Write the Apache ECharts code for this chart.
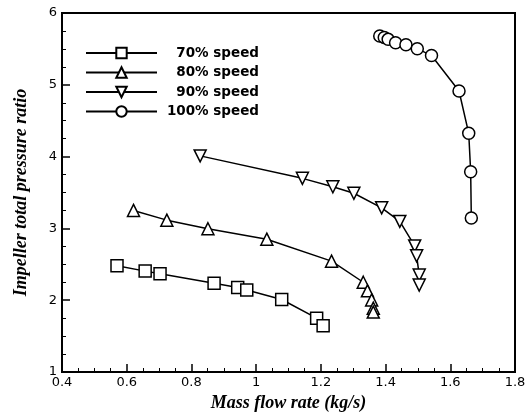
<!DOCTYPE html>
<html>
<head>
<meta charset="utf-8">
<script src="https://cdn.jsdelivr.net/npm/echarts@6/dist/echarts.min.js"></script>
<style>
html,body{margin:0;padding:0;background:#fff;}
#main{width:532px;height:417px;}
</style>
</head>
<body>
<div id="main"></div>
<script>
// 各转速下的特性线数据 [流量 kg/s, 总压比]
var speed70 = [[0.570,2.48],[0.657,2.405],[0.703,2.369],[0.870,2.235],[0.943,2.176],[0.971,2.143],[1.079,2.01],[1.187,1.75],[1.207,1.645]];
var speed80 = [[0.621,3.25],[0.724,3.115],[0.851,2.995],[1.033,2.85],[1.233,2.544],[1.331,2.25],[1.344,2.13],[1.357,2.004],[1.362,1.889],[1.362,1.834]];
var speed90 = [[0.827,4.01],[1.143,3.697],[1.237,3.58],[1.302,3.49],[1.388,3.286],[1.444,3.097],[1.490,2.756],[1.496,2.618],[1.504,2.35],[1.504,2.21]];
var speed100 = [[1.382,5.679],[1.396,5.66],[1.408,5.633],[1.431,5.586],[1.463,5.559],[1.498,5.503],[1.542,5.407],[1.627,4.914],[1.657,4.324],[1.663,3.789],[1.665,3.144]];
var names = ['70% speed','80% speed','90% speed','100% speed'];
var symbols = ['rect','triangle','triangle','circle'];
var rotates = [0,0,180,0];

var chart = echarts.init(document.getElementById('main'));

var sers = [speed70,speed80,speed90,speed100].map(function(d,i){
    return {
        name:names[i],
        type:'line',
        data:d,
        symbol:symbols[i],
        symbolSize:12,
        symbolRotate:rotates[i],
        showAllSymbol:true,
        lineStyle:{color:'#000',width:1.5},
        itemStyle:{color:'#fff',borderColor:'#000',borderWidth:1.5},
        emphasis:{disabled:true},
        animation:false
    };
});

var axisFont = {color:'#000',fontSize:13,fontFamily:'DejaVu Sans'};
var nameFont = {color:'#000',fontSize:18,fontFamily:'Liberation Serif',fontStyle:'italic',fontWeight:'bold'};

chart.setOption({
    backgroundColor:'#fff',
    animation:false,
    grid:{left:62,right:17,top:13,bottom:43,show:true,borderColor:'#000',borderWidth:2,backgroundColor:'transparent'},
    legend:{
        data:names,
        orient:'vertical',
        left:85,
        top:46,
        padding:0,
        itemWidth:71,
        itemHeight:13,
        itemGap:5.5,
        formatter:function(n){return '{a|'+n+'}';},
        textStyle:{
            color:'#000',fontSize:13.5,fontWeight:'bold',fontFamily:'DejaVu Sans',
            rich:{a:{width:97,align:'right',lineHeight:13,fontSize:13.5,fontWeight:'bold',fontFamily:'DejaVu Sans'}}
        }
    },
    xAxis:{
        type:'value',min:0.4,max:1.8,interval:0.2,
        name:'Mass flow rate (kg/s)',nameLocation:'middle',nameGap:22,nameTextStyle:nameFont,
        axisLine:{lineStyle:{color:'#000',width:2}},
        axisTick:{inside:true,length:8,lineStyle:{color:'#000',width:1.5}},
        minorTick:{show:true,splitNumber:4,length:4,lineStyle:{color:'#000',width:1}},
        splitLine:{show:false},
        axisLabel:Object.assign({margin:4},axisFont)
    },
    yAxis:{
        type:'value',min:1,max:6,interval:1,
        name:'Impeller total pressure ratio',nameLocation:'middle',nameGap:32,nameTextStyle:nameFont,
        axisLine:{lineStyle:{color:'#000',width:2}},
        axisTick:{inside:true,length:8,lineStyle:{color:'#000',width:1.5}},
        minorTick:{show:true,splitNumber:4,length:4,lineStyle:{color:'#000',width:1}},
        splitLine:{show:false},
        axisLabel:Object.assign({margin:5},axisFont)
    },
    series:sers
});
</script>
</body>
</html>
